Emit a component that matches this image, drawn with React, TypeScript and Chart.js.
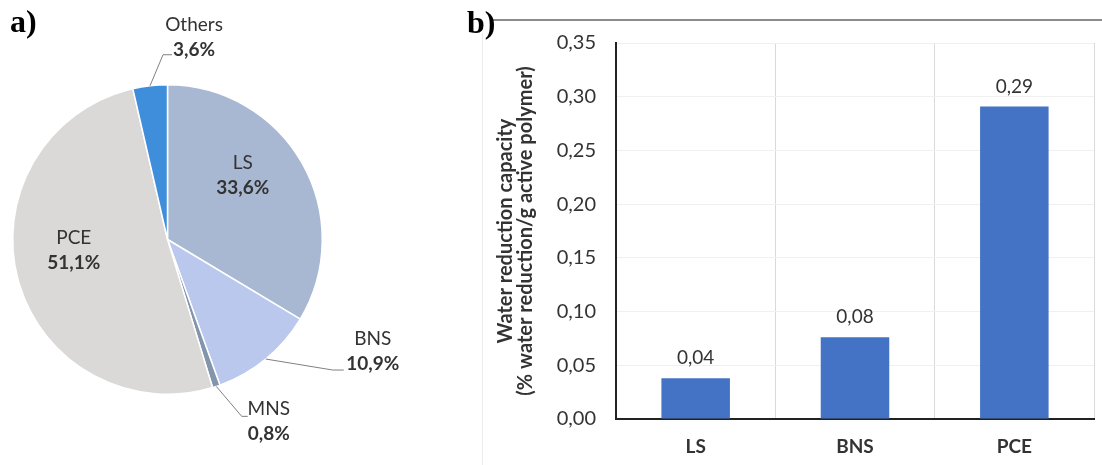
import React, { useEffect, useRef } from 'react';
import { Chart, registerables } from 'chart.js';

Chart.register(...registerables);

// ---------- data ----------
const pieLabels = ['LS', 'BNS', 'MNS', 'PCE', 'Others'];
const pieShares = [33.6, 10.9, 0.8, 51.1, 3.6];

const barCategories = ['LS', 'BNS', 'PCE'];
const barValues = [0.038, 0.076, 0.291];

const yTitleLines = ['Water reduction capacity', '(% water reduction/g active polymer)'];
const yMin = 0;
const yMax = 0.35;
const yStep = 0.05;

// ---------- styles ----------
const FONT = 'Lato, "Open Sans", sans-serif';
const TEXT = '#333333';
const pieColors = ['#a9b8d2', '#b9c8ec', '#8395ad', '#dad9d7', '#3f8edc'];
const barColor = '#4472c4';

// label placement for pie annotations (px nudges / offsets)
type Placement =
  | { kind: 'inside'; f: number; dx: number; dy: number }
  | { kind: 'outside'; elbow: [number, number]; tail: number; text: [number, number] };

const piePlacement: Placement[] = [
  { kind: 'inside', f: 0.64, dx: -11, dy: -15 },
  { kind: 'outside', elbow: [67, 11], tail: 11, text: [40, -18.5] },
  { kind: 'outside', elbow: [25.5, 30], tail: 6, text: [27, 5.5] },
  { kind: 'inside', f: 0.64, dx: 2, dy: -15 },
  { kind: 'outside', elbow: [13, -31], tail: 9, text: [31, -17.5] },
];

const fmtPct = (v: number) => v.toFixed(1).replace('.', ',') + '%';
const fmtVal = (v: number) => v.toFixed(2).replace('.', ',');

const pieLabelPlugin = {
  id: 'pieLabels',
  afterDatasetsDraw(chart: any) {
    const ctx = chart.ctx;
    const meta = chart.getDatasetMeta(0);
    ctx.save();
    meta.data.forEach((arc: any, i: number) => {
      const { x, y, startAngle, endAngle, outerRadius } = arc.getProps(
        ['x', 'y', 'startAngle', 'endAngle', 'outerRadius'],
        true
      );
      const mid = (startAngle + endAngle) / 2;
      const p = piePlacement[i];
      let cx: number;
      let cy: number;
      if (p.kind === 'inside') {
        cx = x + Math.cos(mid) * outerRadius * p.f + p.dx;
        cy = y + Math.sin(mid) * outerRadius * p.f + p.dy;
      } else {
        const ax = x + Math.cos(mid) * outerRadius;
        const ay = y + Math.sin(mid) * outerRadius;
        const ex = ax + p.elbow[0];
        const ey = ay + p.elbow[1];
        ctx.beginPath();
        ctx.strokeStyle = '#808080';
        ctx.lineWidth = 1;
        ctx.moveTo(ax, ay);
        ctx.lineTo(ex, ey);
        ctx.lineTo(ex + p.tail, ey);
        ctx.stroke();
        cx = ex + p.text[0];
        cy = ey + p.text[1];
      }
      ctx.fillStyle = TEXT;
      ctx.textAlign = 'center';
      ctx.textBaseline = 'middle';
      ctx.font = `19px ${FONT}`;
      ctx.fillText(pieLabels[i], cx, cy - 12.5);
      ctx.font = `bold 19px ${FONT}`;
      ctx.fillText(fmtPct(pieShares[i]), cx, cy + 12.5);
    });
    ctx.restore();
  },
};

const barLabelPlugin = {
  id: 'barLabels',
  afterDatasetsDraw(chart: any) {
    const ctx = chart.ctx;
    const meta = chart.getDatasetMeta(0);
    ctx.save();
    ctx.fillStyle = TEXT;
    ctx.textAlign = 'center';
    ctx.textBaseline = 'middle';
    ctx.font = `19px ${FONT}`;
    meta.data.forEach((bar: any, i: number) => {
      const { x, y } = bar.getProps(['x', 'y'], true);
      ctx.fillText(fmtVal(barValues[i]), x, y - 20);
    });
    ctx.restore();
  },
};

function PieChart() {
  const ref = useRef<HTMLCanvasElement>(null);
  useEffect(() => {
    const chart = new Chart(ref.current!, {
      type: 'pie',
      data: {
        labels: pieLabels,
        datasets: [
          {
            data: pieShares,
            backgroundColor: pieColors,
            borderColor: '#ffffff',
            borderWidth: 1.5,
          },
        ],
      },
      options: {
        responsive: false,
        animation: false,
        layout: { padding: { left: 12, top: 84, right: 137, bottom: 70 } },
        plugins: { legend: { display: false }, tooltip: { enabled: false } },
      },
      plugins: [pieLabelPlugin],
    });
    return () => chart.destroy();
  }, []);
  return (
    <canvas
      ref={ref}
      width={460}
      height={465}
      style={{ position: 'absolute', left: 0, top: 0, width: 460, height: 465 }}
    />
  );
}

function BarChart() {
  const ref = useRef<HTMLCanvasElement>(null);
  useEffect(() => {
    const chart = new Chart(ref.current!, {
      type: 'bar',
      data: {
        labels: barCategories,
        datasets: [
          {
            data: barValues,
            backgroundColor: barColor,
            barPercentage: 0.43,
            categoryPercentage: 1.0,
          },
        ],
      },
      options: {
        responsive: false,
        animation: false,
        layout: { padding: { top: 43, right: 8, bottom: 0, left: 0 } },
        plugins: { legend: { display: false }, tooltip: { enabled: false } },
        scales: {
          x: {
            grid: { color: '#d9d9d9', lineWidth: 1, drawTicks: false, offset: true },
            border: { display: true, color: '#222222', width: 2 },
            ticks: {
              color: TEXT,
              padding: 16,
              font: { family: FONT, size: 19, weight: 'bold' },
            },
            afterFit(scale: any) {
              scale.height = 46;
            },
          },
          y: {
            min: yMin,
            max: yMax,
            grid: { color: '#f0f0f0', lineWidth: 1, drawTicks: false },
            border: { display: true, color: '#222222', width: 2 },
            ticks: {
              stepSize: yStep,
              padding: 20,
              color: TEXT,
              font: { family: FONT, size: 20 },
              callback: (v: any) => fmtVal(Number(v)),
            },
            title: {
              display: true,
              text: yTitleLines,
              color: TEXT,
              padding: { top: 6, bottom: 0 },
              font: { family: FONT, size: 20, weight: 'bold', lineHeight: 1.0 },
            },
            afterFit(scale: any) {
              scale.width = 126;
            },
          },
        },
      },
      plugins: [barLabelPlugin],
    });
    return () => chart.destroy();
  }, []);
  return (
    <canvas
      ref={ref}
      width={612}
      height={465}
      style={{ position: 'absolute', left: 490, top: 0, width: 612, height: 465 }}
    />
  );
}

export default function App() {
  const panelLetter: React.CSSProperties = {
    position: 'absolute',
    fontFamily: '"Liberation Serif", "Times New Roman", serif',
    fontWeight: 'bold',
    fontSize: 32,
    lineHeight: '32px',
    color: '#000',
  };
  return (
    <div
      style={{
        position: 'absolute',
        left: 0,
        top: 0,
        width: 1102,
        height: 465,
        background: '#ffffff',
        overflow: 'hidden',
      }}
    >
      <PieChart />
      <BarChart />
      <div
        style={{
          position: 'absolute',
          left: 493,
          top: 19,
          width: 609,
          height: 2,
          background: '#8c8c8c',
        }}
      />
      <div
        style={{
          position: 'absolute',
          left: 482,
          top: 33,
          width: 1,
          height: 432,
          background: '#ececec',
        }}
      />
      <div style={{ ...panelLetter, left: 10, top: 5 }}>a)</div>
      <div style={{ ...panelLetter, left: 467, top: 6 }}>b)</div>
    </div>
  );
}
